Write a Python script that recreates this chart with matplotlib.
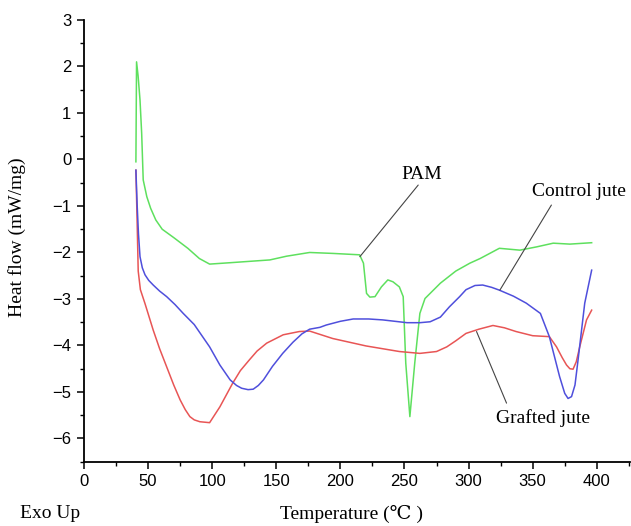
import numpy as np
from matplotlib import pyplot as plt
from matplotlib.ticker import MultipleLocator

# PAM (green)
pam_t = [40.5, 41.0, 42.2, 43.7, 45.0, 46.2, 49.0, 52.0, 56.0, 61.0, 70.0, 81.0, 90.0, 98.0,
         114.0, 145.0, 158.0, 176.0, 194.0, 215.0, 218.0, 220.4, 223.0, 227.0, 232.0,
         237.0, 241.0, 246.0, 249.0, 251.0, 254.2, 258.0, 262.0, 266.0, 278.0, 290.0,
         301.0, 309.0, 324.0, 340.0, 353.0, 366.0, 379.0, 396.0]
pam_hf = [-0.05, 2.10, 1.80, 1.28, 0.56, -0.44, -0.80, -1.05, -1.30, -1.50, -1.68, -1.91,
          -2.13, -2.25, -2.22, -2.16, -2.08, -2.00, -2.02, -2.05, -2.23, -2.88, -2.96,
          -2.95, -2.74, -2.59, -2.63, -2.74, -2.95, -4.38, -5.53, -4.38, -3.31, -2.99,
          -2.66, -2.40, -2.23, -2.13, -1.91, -1.95, -1.88, -1.80, -1.82, -1.79]

# control jute (blue)
ctrl_t = [40.5, 41.5, 42.5, 43.7, 45.5, 47.6, 50.5, 54.0, 59.0, 64.5, 71.0, 77.4, 86.0,
          98.0, 106.0, 114.0, 119.0, 123.0, 128.0, 132.0, 136.0, 140.0, 147.0, 155.0,
          163.0, 170.0, 176.0, 184.0, 189.0, 200.0, 210.0, 222.0, 233.0, 252.0, 262.0,
          270.0, 278.0, 285.0, 293.0, 298.0, 305.0, 311.0, 318.0, 324.0, 335.0, 345.0,
          356.0, 363.0, 371.0, 375.0, 377.6, 380.3, 383.0, 385.4, 390.6, 396.0]
ctrl_hf = [-0.23, -1.00, -1.60, -2.09, -2.33, -2.48, -2.60, -2.70, -2.83, -2.95, -3.12,
           -3.31, -3.55, -4.03, -4.42, -4.74, -4.86, -4.92, -4.95, -4.94, -4.86, -4.74,
           -4.45, -4.17, -3.93, -3.75, -3.65, -3.61, -3.56, -3.48, -3.43, -3.43, -3.45,
           -3.51, -3.51, -3.49, -3.39, -3.17, -2.95, -2.80, -2.71, -2.70, -2.75, -2.81,
           -2.94, -3.09, -3.31, -3.81, -4.67, -5.03, -5.14, -5.10, -4.85, -4.31, -3.09,
           -2.38]

# grafted jute (red)
graft_t = [40.5, 41.5, 42.3, 44.0, 47.6, 54.0, 59.0, 64.5, 70.0, 75.0, 79.0, 82.6, 86.0,
           90.4, 98.0, 106.0, 116.0, 122.0, 129.0, 135.0, 142.5, 155.4, 168.0, 176.0,
           194.0, 220.0, 246.0, 262.0, 275.0, 283.0, 290.0, 298.0, 308.0, 319.0, 328.0,
           337.0, 350.0, 363.0, 368.6, 373.0, 376.4, 379.0, 381.5, 384.0, 386.7, 392.0,
           396.0]
graft_hf = [-0.23, -1.40, -2.40, -2.80, -3.10, -3.67, -4.07, -4.46, -4.85, -5.17, -5.38,
            -5.53, -5.60, -5.64, -5.66, -5.32, -4.81, -4.54, -4.31, -4.12, -3.95, -3.77,
            -3.70, -3.69, -3.85, -4.01, -4.13, -4.17, -4.13, -4.03, -3.90, -3.74, -3.65,
            -3.57, -3.62, -3.70, -3.79, -3.81, -4.03, -4.26, -4.42, -4.50, -4.51, -4.35,
            -4.03, -3.45, -3.24]

serif = ['Liberation Serif', 'DejaVu Serif']

fig = plt.figure(figsize=(6.31, 5.26), dpi=100)
ax = fig.add_axes([0.1331, 0.1222, 0.8655, 0.8398])

ax.plot(pam_t, pam_hf, color='#5ee05e', lw=1.1)
ax.plot(graft_t, graft_hf, color='#e85555', lw=1.1)
ax.plot(ctrl_t, ctrl_hf, color='#4f4fdc', lw=1.1)

ax.set_xlim(0, 426)
ax.set_ylim(-6.5, 3)
ax.xaxis.set_major_locator(MultipleLocator(50))
ax.xaxis.set_minor_locator(MultipleLocator(25))
ax.yaxis.set_major_locator(MultipleLocator(1))
ax.yaxis.set_minor_locator(MultipleLocator(0.5))

for s in ['top', 'right']:
    ax.spines[s].set_visible(False)
for s in ['left', 'bottom']:
    ax.spines[s].set_linewidth(1.3)

ax.tick_params(which='major', direction='out', length=5, width=1.1, pad=4,
               labelsize=12)
ax.tick_params(which='minor', direction='out', length=3, width=1.0)
for lab in ax.get_xticklabels() + ax.get_yticklabels():
    lab.set_family('Liberation Sans')

# leader lines + labels
line_kw = dict(arrowstyle='-', color='#444444', lw=0.8, shrinkA=0, shrinkB=0)
ax.annotate('', xy=(215.2, -2.09), xytext=(260.7, -0.55), arrowprops=line_kw)
ax.annotate('', xy=(324.4, -2.81), xytext=(364.6, -0.98), arrowprops=line_kw)
ax.annotate('', xy=(306.2, -3.70), xytext=(329.6, -5.24), arrowprops=line_kw)
ax.text(263.5, -0.33, 'PAM', family=serif, fontsize=14, ha='center', va='center')
ax.text(386.2, -0.69, 'Control jute', family=serif, fontsize=14, ha='center', va='center')
ax.text(358.1, -5.57, 'Grafted jute', family=serif, fontsize=14, ha='center', va='center')

fig.text(17.5 / 631, 1 - 237 / 526, 'Heat flow (mW/mg)', family=serif, fontsize=14,
         rotation=90, ha='center', va='center')
fig.text(352 / 631, 1 - 514 / 526, 'Temperature (℃ )', family=serif, fontsize=14,
         ha='center', va='center')
fig.text(50 / 631, 1 - 513 / 526, 'Exo Up', family=serif, fontsize=14,
         ha='center', va='center')

fig.savefig('out.png', dpi=100)
